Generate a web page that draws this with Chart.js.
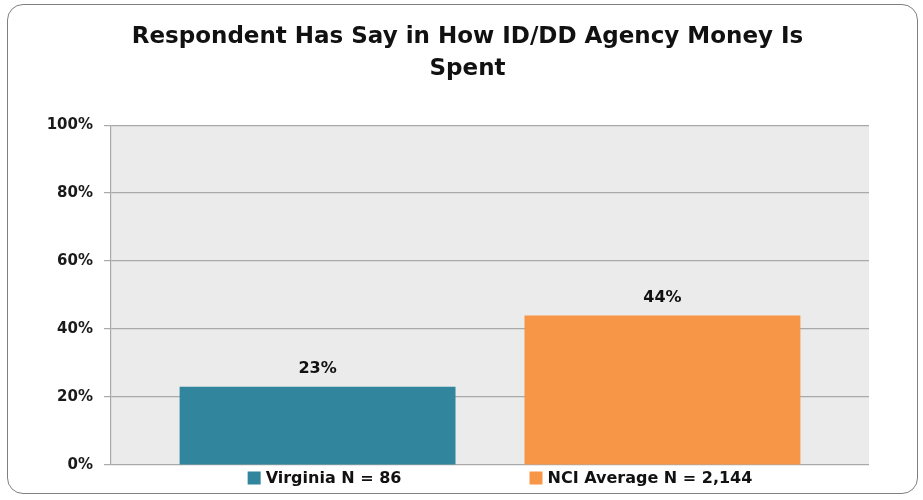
<!DOCTYPE html>
<html>
<head>
<meta charset="utf-8">
<script src="https://cdn.jsdelivr.net/npm/chart.js@4/dist/chart.umd.min.js"></script>
<style>
html, body { margin: 0; padding: 0; background: #fff; }
#wrap { position: relative; width: 923px; height: 500px; }
#frame { position: absolute; left: 7px; top: 4px; width: 909px; height: 488px; border: 1.5px solid #7f7f7f; border-radius: 16px; pointer-events: none; }
canvas { position: absolute; left: 0; top: 0; }
</style>
</head>
<body>
<div id="wrap">
    <canvas id="chart" width="923" height="500"></canvas>
    <div id="frame"></div>
</div>
<script>
const titleLines = ['Respondent Has Say in How ID/DD Agency Money Is', 'Spent'];
const categories = [''];
const seriesNames = ['Virginia N = 86', 'NCI Average N = 2,144'];
const seriesValues = [23, 44];
const seriesColors = ['#31859c', '#f79646'];
const yTicks = [0, 20, 40, 60, 80, 100];

Chart.defaults.font.family = 'DejaVu Sans';
Chart.defaults.color = '#1a1a1a';

// gray fill behind the plot area
const plotBackground = {
    id: 'plotBackground',
    beforeDraw(chart) {
        const { ctx, chartArea: a } = chart;
        ctx.save();
        ctx.fillStyle = '#ebebeb';
        ctx.fillRect(a.left, a.top, a.right - a.left, a.bottom - a.top);
        ctx.restore();
    }
};

// percent label above each bar
const valueLabels = {
    id: 'valueLabels',
    afterDatasetsDraw(chart) {
        const ctx = chart.ctx;
        ctx.save();
        ctx.font = 'bold 16px "DejaVu Sans"';
        ctx.fillStyle = '#111';
        ctx.textAlign = 'center';
        ctx.textBaseline = 'middle';
        chart.data.datasets.forEach((ds, i) => {
            chart.getDatasetMeta(i).data.forEach((bar, j) => {
                ctx.fillText(ds.data[j] + '%', bar.x, bar.y - 18);
            });
        });
        ctx.restore();
    }
};

// legend row under the axis, wide gap between the two entries
const bottomLegend = {
    id: 'bottomLegend',
    afterDraw(chart) {
        const { ctx, chartArea: a } = chart;
        const box = 13, textGap = 5, itemGap = 128;
        ctx.save();
        ctx.font = 'bold 16px "DejaVu Sans"';
        ctx.textBaseline = 'middle';
        const items = chart.data.datasets.map(ds => ({
            text: ds.label,
            color: ds.backgroundColor,
            w: box + textGap + ctx.measureText(ds.label).width
        }));
        const total = items.reduce((s, it) => s + it.w, 0) + itemGap * (items.length - 1);
        let x = (a.left + a.right) / 2 + 10 - total / 2;
        const y = a.bottom + 13;
        items.forEach(it => {
            ctx.fillStyle = it.color;
            ctx.fillRect(x, y - box / 2, box, box);
            ctx.fillStyle = '#111';
            ctx.fillText(it.text, x + box + textGap, y + 1);
            x += it.w + itemGap;
        });
        ctx.restore();
    }
};

new Chart(document.getElementById('chart'), {
    type: 'bar',
    data: {
        labels: categories,
        datasets: seriesNames.map((name, i) => ({
            label: name,
            data: [seriesValues[i]],
            backgroundColor: seriesColors[i],
            categoryPercentage: 0.91,
            barPercentage: 0.8
        }))
    },
    options: {
        responsive: false,
        animation: false,
        layout: { padding: { left: 12, right: 0, top: 0, bottom: 35 } },
        plugins: {
            legend: { display: false },
            tooltip: { enabled: false },
            title: {
                display: true,
                text: titleLines,
                font: { family: 'DejaVu Sans', size: 23, weight: 'bold', lineHeight: 1.35 },
                color: '#111',
                padding: { top: 22, bottom: 41 }
            }
        },
        scales: {
            x: { display: false },
            y: {
                min: 0,
                max: 100,
                afterBuildTicks: s => { s.ticks = yTicks.map(v => ({ value: v })); },
                afterFit: s => { s.width = 99; },
                ticks: {
                    padding: 11,
                    font: { family: 'DejaVu Sans', size: 15, weight: 'bold' },
                    color: '#1a1a1a',
                    callback: v => v + '%'
                },
                grid: { color: '#a9a9a9', lineWidth: 1.2, tickLength: 7 },
                border: { color: '#a9a9a9', width: 1.2 }
            },
            // blank strip on the right so the plot ends short of the frame
            yRight: {
                position: 'right',
                display: true,
                ticks: { display: false },
                grid: { display: false },
                border: { display: false },
                afterFit: s => { s.width = 54; }
            }
        }
    },
    plugins: [plotBackground, valueLabels, bottomLegend]
});
</script>
</body>
</html>
